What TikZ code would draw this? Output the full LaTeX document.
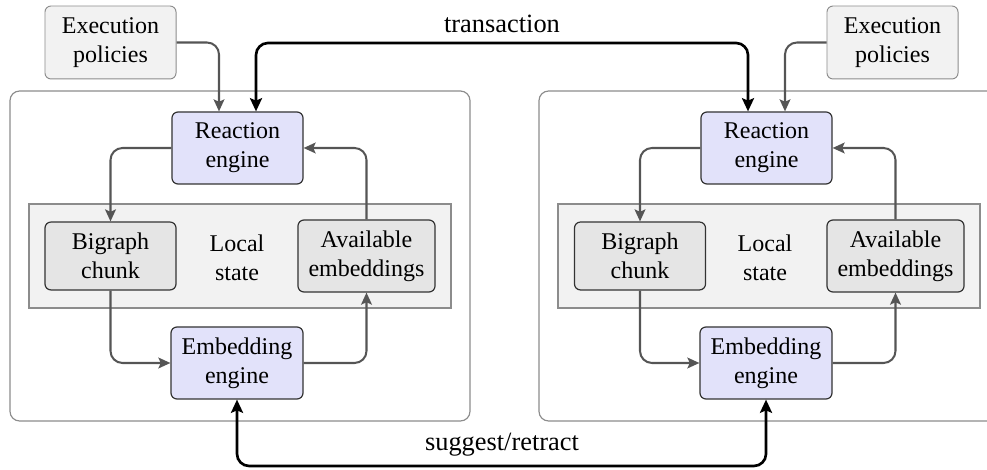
\documentclass[tikz,border=0pt]{standalone}
\usepackage{fontspec}
\setmainfont{Liberation Serif}
\usetikzlibrary{arrows.meta}
\definecolor{engfill}{RGB}{226,226,250}
\definecolor{chunkfill}{RGB}{229,229,229}
\definecolor{lightfill}{RGB}{242,242,242}
\definecolor{arrgray}{RGB}{85,85,85}
\definecolor{boxgray}{RGB}{140,140,140}
\tikzset{
  base/.style={draw, rounded corners=2.5pt, align=center, inner sep=0pt},
  policy/.style={base, fill=lightfill, draw=boxgray, line width=0.4pt},
  engine/.style={base, fill=engfill, draw=black!80, line width=0.5pt},
  chunk/.style={base, fill=chunkfill, draw=black!80, line width=0.5pt},
  outerbox/.style={draw=boxgray, rounded corners=4pt, line width=0.5pt},
  statebox/.style={draw=boxgray, fill=lightfill, line width=0.5pt},
  garrow/.style={draw=arrgray, line width=0.85pt, rounded corners=5pt, -{Stealth[length=5pt,width=4.5pt,inset=1pt]}},
  barrow/.style={draw=black, line width=1.1pt, rounded corners=5pt, {Stealth[length=5.5pt,width=5pt,inset=1pt]}-{Stealth[length=5.5pt,width=5pt,inset=1pt]}},
  lbl/.style={font=\fontsize{11}{13.6}\selectfont, inner sep=0pt},
  statetext/.style={align=center, inner sep=0pt},
}
\begin{document}
\begin{tikzpicture}[x=0.41667pt, y=-0.41667pt]
\useasboundingbox (0,0) rectangle (987,470);
% outer boxes
\draw[outerbox] (10,91) rectangle (470,421);
\draw[outerbox] (539,91) rectangle (1010,421);
% local state boxes
\draw[statebox] (29,204) rectangle (451,308);
\draw[statebox] (558,204) rectangle (980,308);
\node[statetext] (lstL) at (237,258) {Local\\state};
\node[statetext] (lstR) at (765,258) {Local\\state};
% policies
\node[policy, minimum width=54.6pt, minimum height=30.4pt] (exL) at (110.5,42.5) {Execution\\policies};
\node[policy, minimum width=54.6pt, minimum height=30.4pt] (exR) at (892.5,42.5) {Execution\\policies};
% engines
\node[engine, minimum width=54.6pt, minimum height=30pt] (reL) at (237.5,148) {Reaction\\engine};
\node[engine, minimum width=54.6pt, minimum height=30pt] (reR) at (766.5,148) {Reaction\\engine};
\node[engine, minimum width=55pt, minimum height=30pt] (emL) at (237,363) {Embedding\\engine};
\node[engine, minimum width=55pt, minimum height=30pt] (emR) at (766,363) {Embedding\\engine};
% chunks
\node[chunk, minimum width=54.6pt, minimum height=28.3pt] (bcL) at (110.5,256) {Bigraph\\chunk};
\node[chunk, minimum width=54.6pt, minimum height=28.3pt] (bcR) at (640,256) {Bigraph\\chunk};
\node[chunk, minimum width=57.1pt, minimum height=30pt] (aeL) at (366.5,256) {Available\\embeddings};
\node[chunk, minimum width=57.1pt, minimum height=30pt] (aeR) at (895.5,256) {Available\\embeddings};
% helper coordinates
\coordinate (pxL) at (219,0);
\coordinate (pxR) at (785,0);
\coordinate (tL) at (256,43);
\coordinate (tR) at (748,43);
\coordinate (sy) at (0,466);
% policy arrows
\draw[garrow] (exL.east) -| (pxL |- reL.north);
\draw[garrow] (exR.west) -| (pxR |- reR.north);
% internal loops
\draw[garrow] (reL.west) -| (bcL.north);
\draw[garrow] (aeL.north) |- (reL.east);
\draw[garrow] (bcL.south) |- (emL.west);
\draw[garrow] (emL.east) -| (aeL.south);
\draw[garrow] (reR.west) -| (bcR.north);
\draw[garrow] (aeR.north) |- (reR.east);
\draw[garrow] (bcR.south) |- (emR.west);
\draw[garrow] (emR.east) -| (aeR.south);
% transaction
\draw[barrow] (tL |- reL.north) -- (tL) -- (tR) -- (tR |- reR.north);
\node[lbl] (trans) at (502,24) {transaction};
% suggest/retract
\draw[barrow] (emL.south) -- (emL.south |- sy) -- (emR.south |- sy) -- (emR.south);
\node[lbl] (sugg) at (502,445) {suggest/retract};
\end{tikzpicture}
\end{document}
